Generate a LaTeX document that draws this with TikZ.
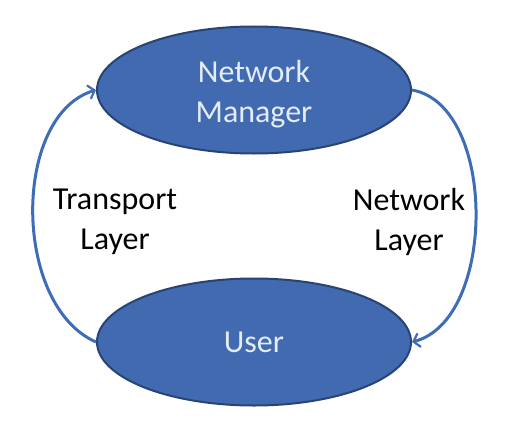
\documentclass[tikz,border=0pt]{standalone}
\usepackage{fontspec}
\setmainfont{Carlito}
\usepackage{tikz}
\usetikzlibrary{arrows.meta,shapes.geometric}
\definecolor{nodeFill}{RGB}{65,106,176}
\definecolor{nodeEdge}{RGB}{40,68,116}
\definecolor{linkBlue}{RGB}{62,108,182}
\definecolor{nodeText}{RGB}{228,236,248}

\begin{document}
\begin{tikzpicture}[x=1pt,y=-1pt,
    entity/.style={ellipse,draw=nodeEdge,line width=2pt,fill=nodeFill,text=nodeText,
      minimum width=314pt,minimum height=127pt,inner sep=0pt,align=center,
      font=\fontsize{32}{40}\selectfont},
    layer/.style={align=center,font=\fontsize{32}{40}\selectfont},
    link/.style={draw=linkBlue,line width=3pt,-{Straight Barb[length=6pt,width=14pt,line width=2.2pt]}}]
  \useasboundingbox (0,0) rectangle (513,420);

  % the two ends
  \node[entity] (mgr) at (254,90) {\rule{0pt}{30pt}Network\\Manager};
  \node[entity] (usr) at (254,342) {User};

  % links between them
  \draw[link] (usr.west) .. controls (12,305) and (12,115) .. (mgr.west);
  \draw[link] (mgr.east) .. controls (497,105) and (497,320) .. (usr.east);

  \node[layer] (tl) at (115,222) {Transport\\Layer};
  \node[layer] (nl) at (409,222) {Network\\Layer};
\end{tikzpicture}
\end{document}
